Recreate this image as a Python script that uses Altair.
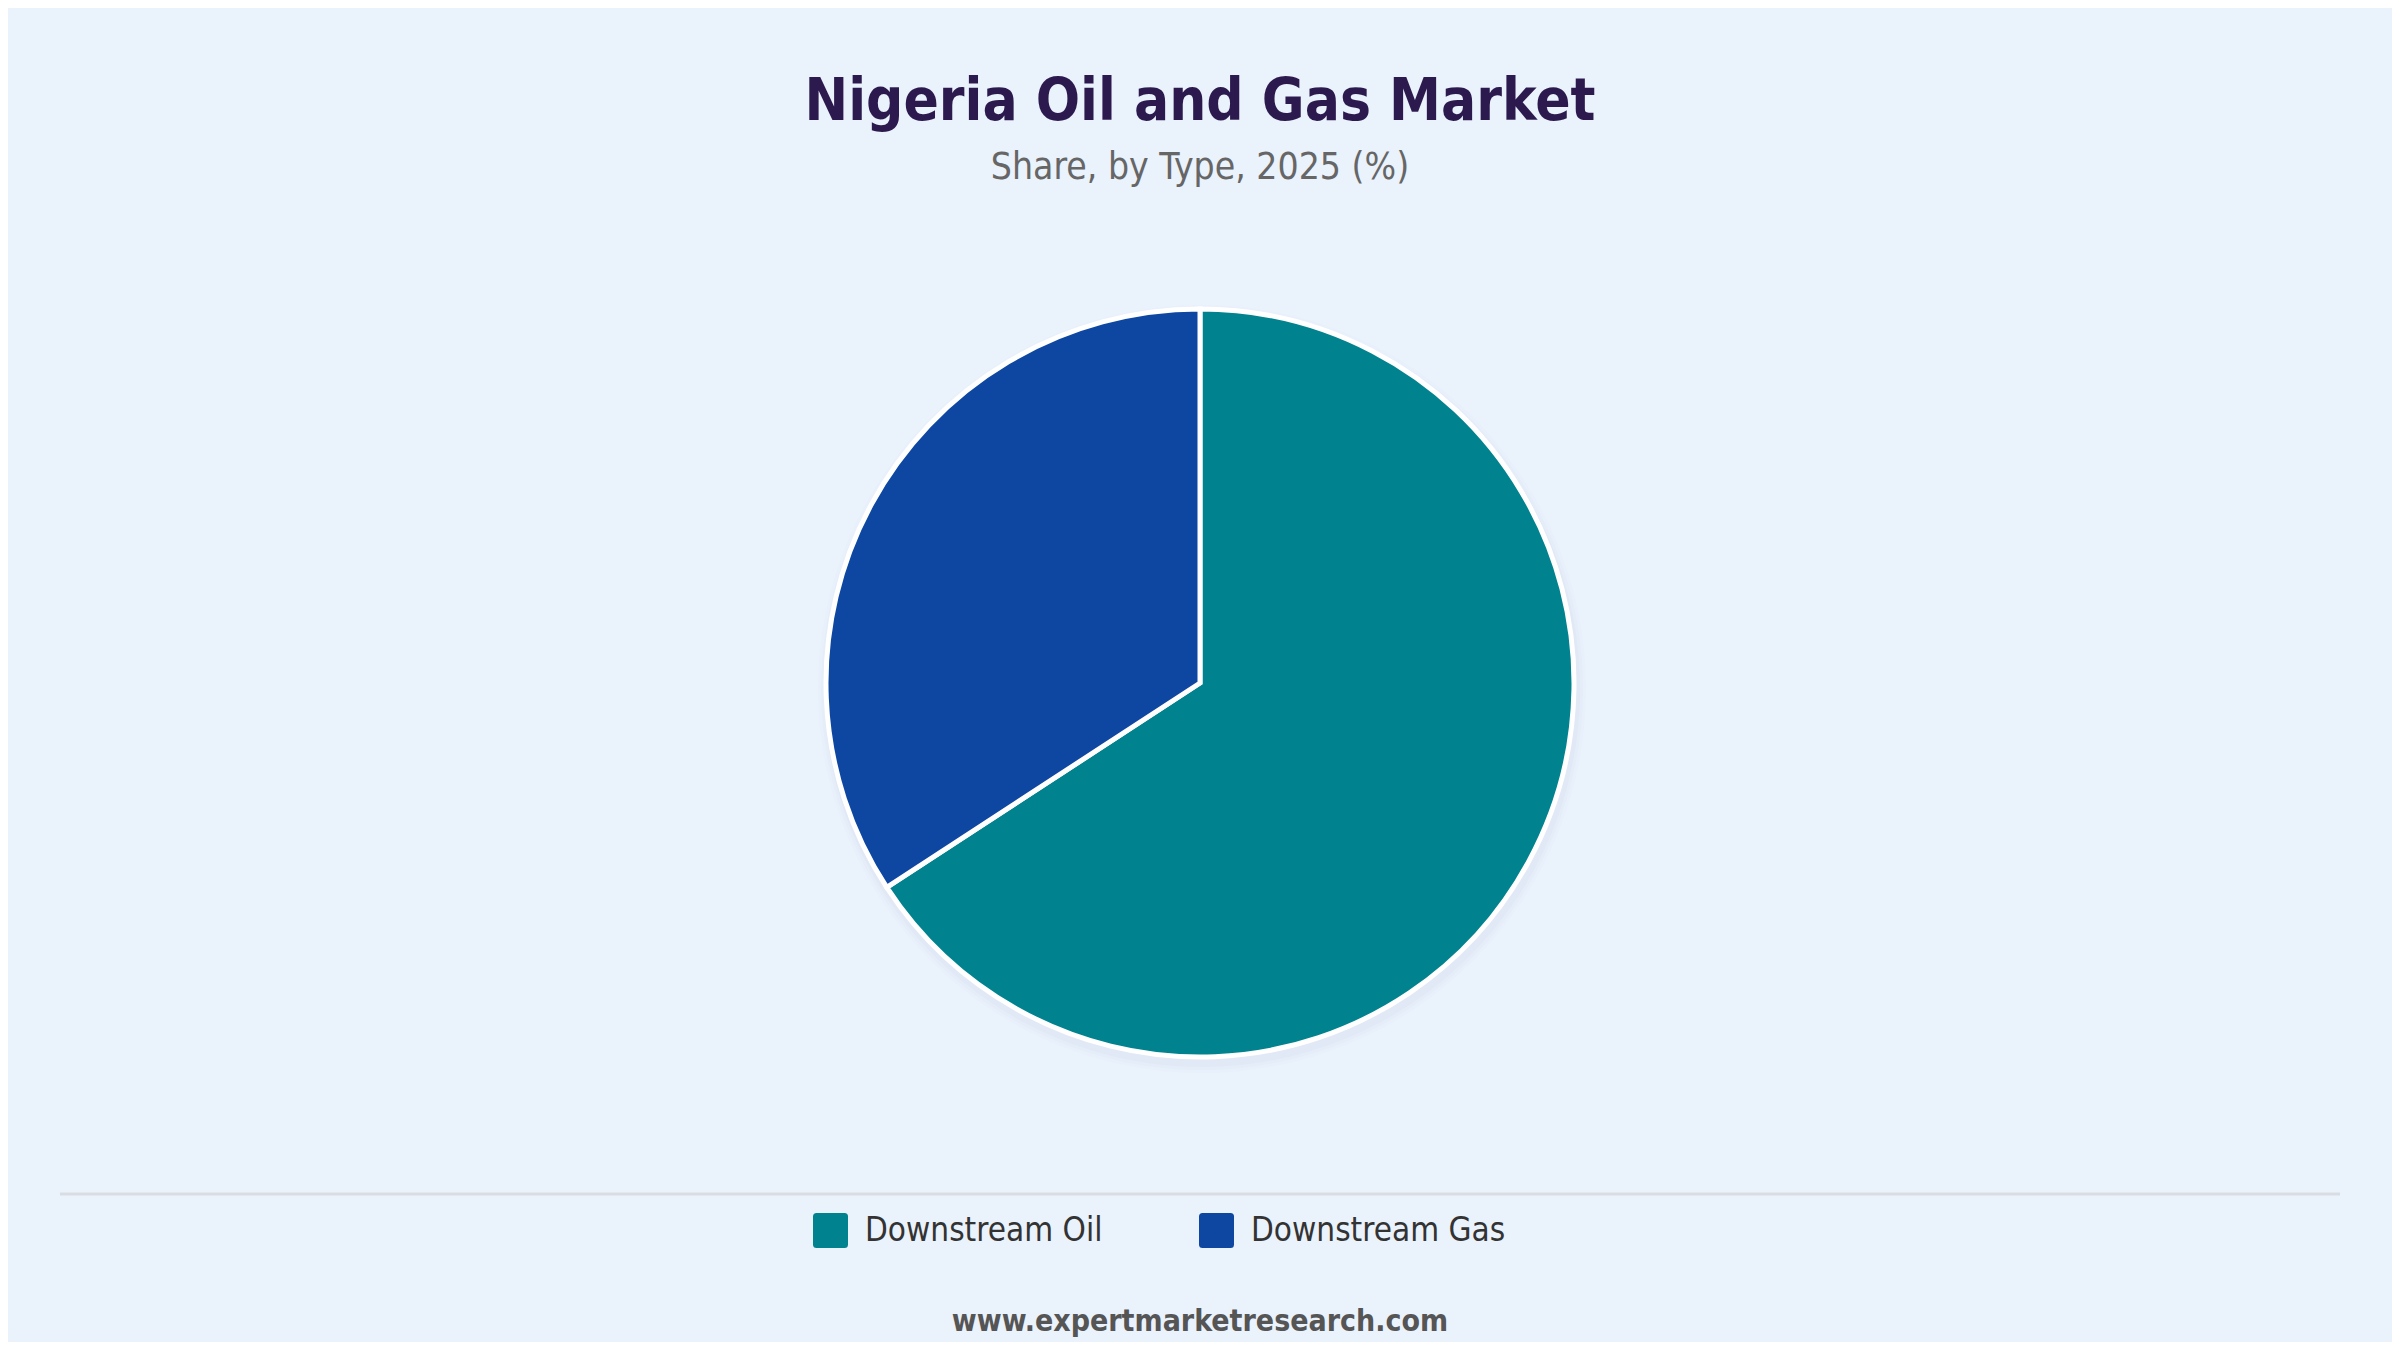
import altair as alt
import pandas as pd

categories = ["Downstream Oil", "Downstream Gas"]
shares = [65.8, 34.2]
colors = ["#00838F", "#0D47A1"]

df = pd.DataFrame({"type": categories, "share": shares, "order": [0, 1]})

W, H = 2384, 1334
CX, CY, R = 1192, 675, 374
BG = "#EAF2FC"
FONT = "'DejaVu Sans Condensed', 'Liberation Sans Narrow', 'Open Sans', sans-serif"

one = alt.Data(values=[{"a": 1}])

shadows = []
for dr, op in [(10, 0.015), (7, 0.025), (4, 0.04)]:
    shadows.append(
        alt.Chart(one).mark_arc(theta=0, theta2=6.2832, radius=R + dr, color="#8090a8", opacity=op)
        .encode(x=alt.value(CX + 2), y=alt.value(CY + 6))
    )

pie = alt.Chart(df).mark_arc(radius=R, stroke="white", strokeWidth=5).encode(
    theta=alt.Theta("share:Q", stack=True),
    order=alt.Order("order:Q"),
    color=alt.Color(
        "type:N",
        scale=alt.Scale(domain=categories, range=colors),
        sort=categories,
        legend=alt.Legend(
            title=None,
            orient="none",
            legendX=805,
            legendY=1205,
            direction="horizontal",
            columns=2,
            columnPadding=96,
            symbolType="M -0.8,-1 L 0.8,-1 Q 1,-1 1,-0.8 L 1,0.8 Q 1,1 0.8,1 L -0.8,1 Q -1,1 -1,0.8 L -1,-0.8 Q -1,-1 -0.8,-1 Z",
            symbolSize=1225,
            symbolStrokeWidth=0,
            labelFontSize=33,
            labelFont=FONT,
            labelColor="#333333",
            labelOffset=17,
            labelLimit=0,
            padding=0,
        ),
    ),
    x=alt.value(CX),
    y=alt.value(CY),
)

title = alt.Chart(one).mark_text(
    text="Nigeria Oil and Gas Market", fontSize=58, fontWeight="bold",
    font=FONT, color="#2C1A4E", align="center", baseline="middle"
).encode(x=alt.value(1192), y=alt.value(95))

subtitle = alt.Chart(one).mark_text(
    text="Share, by Type, 2025 (%)", fontSize=37,
    font=FONT, color="#666666", align="center", baseline="middle"
).encode(x=alt.value(1192), y=alt.value(160))

sep = alt.Chart(one).mark_rule(color="#D9DDE2", strokeWidth=3).encode(
    x=alt.value(52), x2=alt.value(2332), y=alt.value(1186)
)

footer = alt.Chart(one).mark_text(
    text="www.expertmarketresearch.com", fontSize=30, fontWeight="bold",
    font=FONT, color="#555555", align="center", baseline="middle"
).encode(x=alt.value(1192), y=alt.value(1314))

chart = alt.layer(*shadows, pie, title, subtitle, sep, footer).properties(
    width=W, height=H, background=BG, padding=0
).configure_view(stroke=None)

chart.save("out.html", embed_options={"renderer": "svg", "actions": False})
